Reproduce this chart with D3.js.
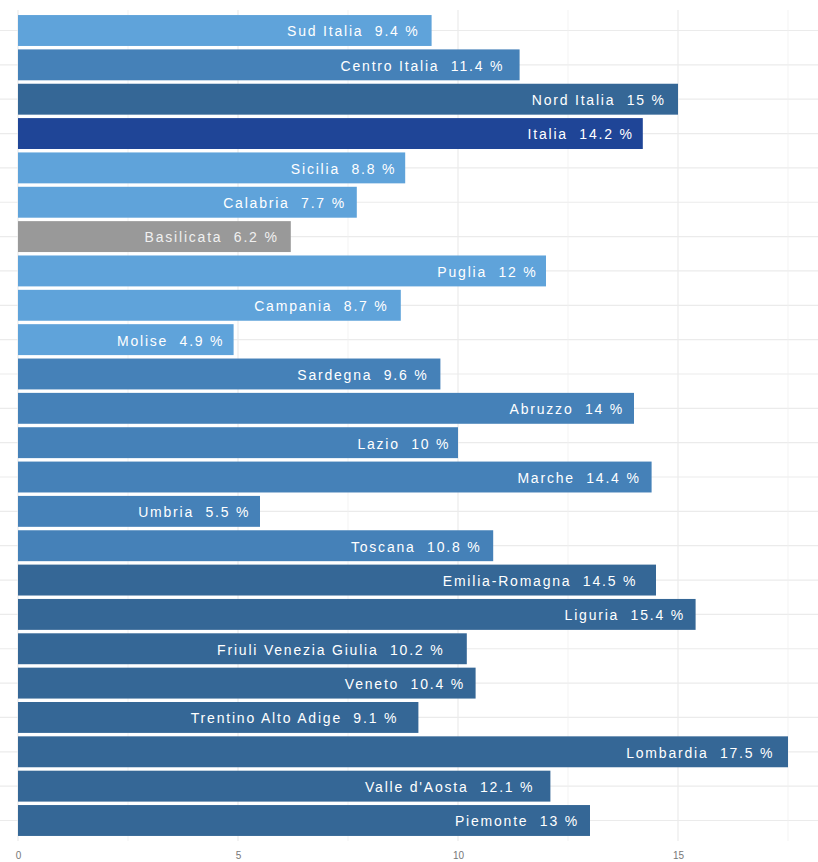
<!DOCTYPE html>
<html>
<head>
<meta charset="utf-8">
<script src="https://cdn.jsdelivr.net/npm/d3@7"></script>
<style>
  body { margin: 0; background: #fff; }
  svg { display: block; font-family: "Liberation Sans", Arial, sans-serif; }
</style>
</head>
<body>
<svg id="chart" width="818" height="862"></svg>
<script>
// categories, top to bottom
var regions = ["Sud Italia", "Centro Italia", "Nord Italia", "Italia", "Sicilia", "Calabria",
  "Basilicata", "Puglia", "Campania", "Molise", "Sardegna", "Abruzzo", "Lazio", "Marche",
  "Umbria", "Toscana", "Emilia-Romagna", "Liguria", "Friuli Venezia Giulia", "Veneto",
  "Trentino Alto Adige", "Lombardia", "Valle d'Aosta", "Piemonte"];
var values = [9.4, 11.4, 15, 14.2, 8.8, 7.7, 6.2, 12, 8.7, 4.9, 9.6, 14, 10, 14.4, 5.5,
  10.8, 14.5, 15.4, 10.2, 10.4, 9.1, 17.5, 12.1, 13];
// area group of each bar: s = sud, c = centro, n = nord, it = italia, na = no data
var groups = ["s", "c", "n", "it", "s", "s", "na", "s", "s", "s", "c", "c", "c", "c", "c",
  "c", "n", "n", "n", "n", "n", "n", "n", "n"];
var xTicks = [0, 5, 10, 15];
var xMinor = [2.5, 7.5, 12.5, 17.5];

var colors = {s: "#5fa3da", c: "#4581b8", n: "#356796", it: "#1f4597", na: "#999999"};

var svg = d3.select("#chart");
var panel = {left: -20, right: 826, top: 10, bottom: 841};

var x = d3.scaleLinear().domain([0, 17.5]).range([18, 788]);
var y = d3.scaleBand().domain(regions).range([panel.top, panel.bottom])
  .paddingInner(0.1).paddingOuter(0.147);

var grid = svg.append("g");
// horizontal grid at bar centres
grid.selectAll("line.h").data(regions).enter().append("line")
  .attr("x1", panel.left).attr("x2", panel.right)
  .attr("y1", function(d){ return y(d) + y.bandwidth() / 2; })
  .attr("y2", function(d){ return y(d) + y.bandwidth() / 2; })
  .attr("stroke", "#ebebeb").attr("stroke-width", 1.2);
grid.selectAll("line.vmin").data(xMinor).enter().append("line")
  .attr("x1", x).attr("x2", x).attr("y1", panel.top).attr("y2", panel.bottom)
  .attr("stroke", "#f0f0f0").attr("stroke-width", 0.8);
grid.selectAll("line.vmaj").data(xTicks).enter().append("line")
  .attr("x1", x).attr("x2", x).attr("y1", panel.top).attr("y2", panel.bottom)
  .attr("stroke", "#ebebeb").attr("stroke-width", 1.2);

var rows = regions.map(function(r, i){ return {name: r, value: values[i], group: groups[i]}; });

svg.append("g").selectAll("rect").data(rows).enter().append("rect")
  .attr("x", x(0))
  .attr("y", function(d){ return y(d.name); })
  .attr("width", function(d){ return x(d.value) - x(0); })
  .attr("height", y.bandwidth())
  .attr("fill", function(d){ return colors[d.group]; });

var labels = svg.append("g").selectAll("text").data(rows).enter().append("text")
  .attr("y", function(d){ return y(d.name) + y.bandwidth() / 2 + 1; })
  .attr("dy", "0.35em")
  .attr("text-anchor", "end")
  .attr("fill", function(d){ return d.group === "na" ? "#f0f0f0" : "#ffffff"; })
  .style("font-size", "14px")
  .style("letter-spacing", "1.8px")
  .style("white-space", "pre")
  .text(function(d){ return d.name + "  " + d.value + " %"; });

// longer labels sit a bit further in from the bar end, as in the original
labels.attr("x", function(d){
  var w = this.getComputedTextLength();
  var gap = 0.11 * w - 1;
  return x(d.value) - gap + 1.6;
});

var axis = svg.append("g").attr("transform", "translate(0," + panel.bottom + ")")
  .call(d3.axisBottom(x).tickValues(xTicks).tickSize(0).tickPadding(11));
axis.select(".domain").remove();
axis.selectAll("text").attr("fill", "#777").style("font-size", "10px")
  .style("font-family", "'Liberation Sans', Arial, sans-serif");
</script>
</body>
</html>
